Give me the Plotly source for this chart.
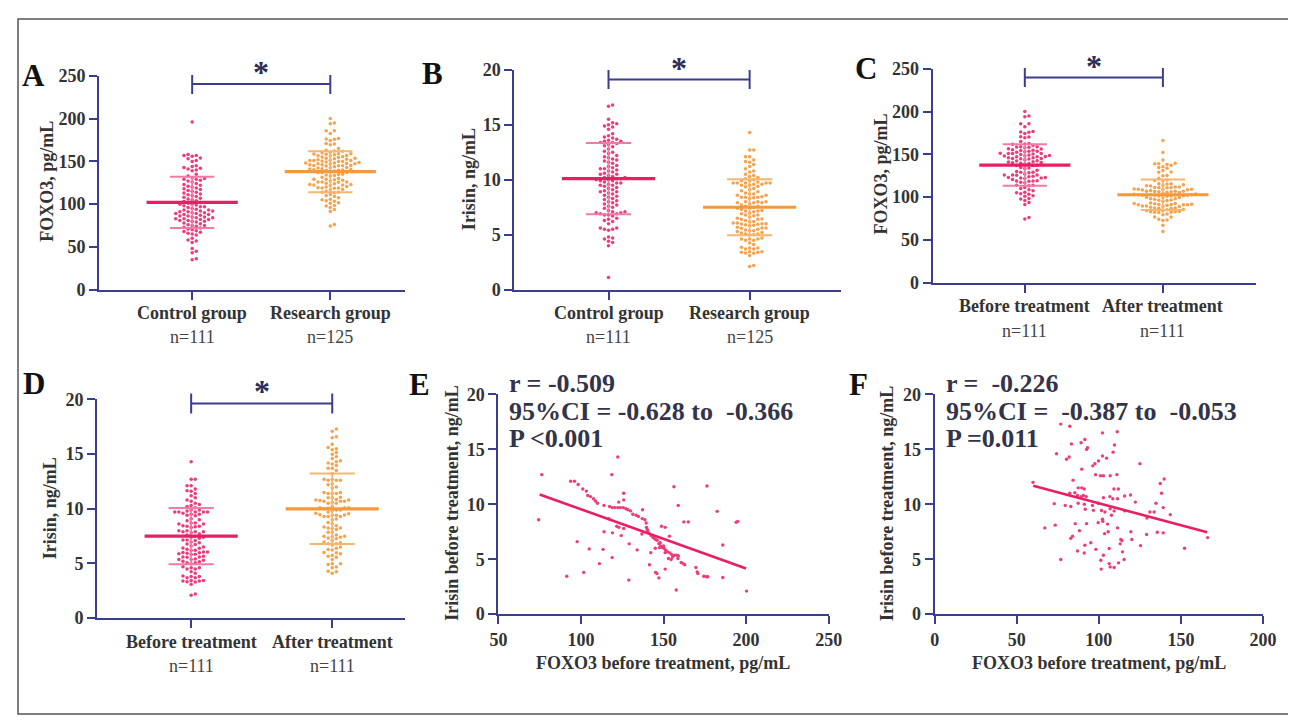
import numpy as np
import plotly.graph_objects as go

W, H = 1296, 721
FONT = "Liberation Serif"
NAVY = "#3b3d8f"
TXT = "#333333"
PINK_PT, PINK_MEAN, PINK_SD = "#ef3b7c", "#e91e63", "#f27aa6"
ORNG_PT, ORNG_MEAN, ORNG_SD = "#f6a24c", "#f59a3c", "#f8b570"

# ---------------- data ----------------
a_control = [196,
             158, 157, 157, 156, 154, 153,
             151, 150,
             145, 144, 143, 142, 141, 140, 139,
             135, 133,
             131, 130, 129, 129, 128, 127, 126,
             124, 123, 122, 121, 120, 119, 118, 117, 116,
             115, 114, 113, 112, 111, 110, 109, 108, 107,
             106, 105, 104, 103, 102, 101, 100, 100, 99, 98, 97, 97, 96,
             95, 94, 93, 93, 92, 92, 91, 91, 90, 90, 89, 89, 88, 88, 87,
             86, 86, 85, 85, 84, 84, 83, 83, 82, 82, 81, 81, 80, 80, 79,
             78, 77, 76, 75, 75, 74, 73, 72, 71,
             70, 69, 68, 67, 66, 65, 64,
             60, 58, 57, 55,
             48, 45, 43,
             36, 35]

b_control = [16.8, 16.7,
             15.5,
             15.2, 15.1, 15.0, 14.9, 14.8, 14.6,
             14.2, 14.0, 13.9, 13.8, 13.7, 13.6, 13.5, 13.5, 13.4, 13.4, 13.3, 13.2, 13.1,
             13.0, 12.8, 12.6, 12.5, 12.4, 12.2, 12.1, 12.0, 11.9, 11.8, 11.7, 11.6, 11.5,
             11.3, 11.2, 11.1, 11.0, 11.0, 10.9, 10.8, 10.7, 10.6, 10.5, 10.5, 10.4, 10.3,
             10.2, 10.2, 10.1, 10.1, 10.0, 10.0,
             9.9, 9.9, 9.8, 9.7, 9.7, 9.6, 9.5, 9.5, 9.4, 9.3, 9.2, 9.1, 9.0, 8.9, 8.9,
             8.8, 8.7, 8.6,
             8.5, 8.4, 8.3, 8.2, 8.1, 8.0, 7.9, 7.8, 7.7, 7.6, 7.5, 7.4,
             7.2, 7.1, 7.1, 7.0, 7.0, 6.9, 6.9, 6.8, 6.8, 6.7,
             6.5, 6.4, 6.3, 6.2, 6.0,
             5.6, 5.6, 5.5, 5.5, 5.4,
             4.8, 4.7, 4.6, 4.4, 4.3,
             4.0,
             1.1]

foxo3_before = [76.3, 122.3, 118.7, 74.4, 93.8, 96.1, 98.3, 101.1, 103.3, 104.1,
                105.8, 107.6, 108.8, 110.0, 125.9, 125.9, 122.9, 114.0, 117.3, 118.9,
                120.5, 122.3, 123.9, 125.6, 127.2, 128.4, 130.0, 137.3, 131.4, 133.4,
                134.8, 137.1, 138.7, 139.5, 139.7, 140.1, 116.9, 121.7, 123.0, 125.9,
                114.0, 119.1, 124.4, 136.9, 140.5, 148.8, 151.0, 153.6, 142.5, 143.7,
                145.2, 146.2, 147.2, 148.2, 149.2, 150.4, 151.4, 152.4, 153.8, 155.0,
                156.7, 158.3, 158.7, 160.7, 161.9, 162.9, 147.6, 145.0, 142.3, 151.0,
                153.0, 154.6, 169.6, 170.4, 170.8, 174.4, 176.0, 176.8, 185.9, 185.9,
                182.5, 194.0, 195.0, 176.3, 156.3, 158.9, 162.3, 165.0, 200.3, 157.7,
                147.2, 145.2, 146.0, 151.0, 141.5, 129.0, 91.4, 101.7, 111.2, 118.9,
                105.0, 113.4, 97.7, 129.2, 134.0, 141.0, 144.5, 150.0, 155.5, 159.0,
                148.0]
irisin_before = [12.7, 14.3, 12.7, 8.6, 12.1, 12.1, 11.8, 11.4, 11.2, 10.8,
                 10.7, 10.5, 10.3, 10.1, 11.0, 10.4, 10.2, 9.9, 9.8, 9.7,
                 9.7, 9.7, 9.7, 9.7, 9.6, 9.5, 9.4, 9.5, 9.1, 9.0,
                 8.9, 8.7, 8.6, 8.3, 7.9, 7.7, 8.7, 8.0, 7.9, 7.8,
                 7.5, 7.4, 7.15, 7.3, 7.6, 8.0, 7.9, 7.1, 7.15, 6.97,
                 6.79, 6.73, 6.42, 6.18, 6.06, 5.97, 5.82, 5.67, 5.58, 5.42,
                 5.36, 5.36, 5.06, 4.7, 4.6, 4.5, 6.06, 6.0, 5.6, 5.6,
                 5.06, 4.97, 4.24, 3.85, 3.7, 3.45, 3.4, 3.4, 3.33, 6.3,
                 9.36, 8.36, 8.45, 11.66, 11.6, 9.9, 8.4, 8.4, 2.1, 2.2,
                 3.3, 3.8, 3.7, 4.1, 4.5, 3.1, 3.45, 3.8, 4.6, 5.15,
                 5.94, 5.9, 6.6, 6.4, 5.85, 7.4, 6.9, 6.2, 5.2, 5.3,
                 6.5]

foxo3_after = [59.9, 76.8, 82.3, 102.2, 111.2, 83.3, 89.2, 91.5, 93.1, 92.5,
               74.2, 80.3, 81.9, 108.7, 109.5, 102.2, 104.7, 99.8, 97.6, 96.3,
               89.6, 125.0, 98.0, 101.0, 102.8, 106.9, 111.0, 84.3, 139.8, 137.4,
               138.2, 109.2, 111.9, 87.4, 89.6, 91.1, 87.0, 89.2, 90.6, 92.3,
               85.4, 82.3, 102.8, 106.7, 108.5, 111.4, 115.7, 119.3, 122.2, 134.8,
               139.2, 72.8, 79.5, 82.9, 87.4, 91.1, 96.1, 99.6, 91.7, 96.7,
               106.9, 109.3, 103.7, 101.6, 115.8, 131.1, 133.7, 129.3, 143.5, 102.2,
               102.4, 105.3, 107.7, 85.6, 92.5, 99.6, 67.1, 73.4, 82.9, 84.0,
               111.4, 103.5, 105.7, 113.4, 114.0, 113.0, 119.5, 120.1, 129.1, 135.6,
               139.2, 125.4, 152.2, 166.3, 87.0, 91.1, 95.1, 91.5, 98.2, 106.3,
               102.8, 101.2, 106.3, 109.3, 112.0, 114.4, 115.4, 101.4, 106.9, 76.8,
               88.2]
irisin_after = [12.0, 17.3, 17.1, 16.5, 16.6, 15.5, 15.6, 15.9, 15.15, 15.0,
                14.6, 14.1, 14.3, 14.75, 15.4, 14.4, 14.2, 13.95, 13.7, 13.5,
                13.2, 13.7, 12.7, 12.6, 12.6, 12.6, 12.7, 12.2, 12.3, 11.9,
                11.0, 11.4, 11.4, 11.5, 11.5, 11.4, 10.8, 10.7, 10.8, 10.7,
                11.05, 11.0, 10.6, 10.7, 10.5, 10.5, 10.75, 10.85, 10.2, 10.1,
                9.7, 10.06, 9.9, 9.8, 10.1, 10.0, 9.9, 10.1, 9.55, 9.45,
                9.6, 9.4, 9.3, 9.43, 9.4, 9.3, 9.3, 8.75, 9.06, 8.64,
                8.45, 8.2, 9.0, 8.24, 8.24, 8.33, 7.85, 8.1, 6.9, 7.1,
                7.85, 7.33, 7.5, 6.8, 6.7, 6.4, 7.5, 6.8, 7.25, 7.45,
                7.4, 6.24, 6.0, 6.97, 5.75, 5.57, 6.5, 6.27, 5.9, 5.97,
                5.36, 4.9, 4.6, 4.24, 4.67, 5.67, 4.97, 4.1, 4.3, 4.97,
                7.6]

a_research = foxo3_before + [160, 157, 152, 150, 147, 145, 143, 140, 138, 135, 133, 128, 120, 115]
b_research = irisin_before + [10.0, 9.6, 9.2, 8.8, 8.4, 8.0, 7.6, 7.2, 6.8, 6.4, 6.0, 5.5, 5.0, 4.6]

a_mean, a_sd = [102, 138], [30, 24]
b_mean, b_sd = [10.1, 7.5], [3.25, 2.55]
c_mean, c_sd = [137.5, 102.8], [24.3, 17.9]
d_mean, d_sd = [7.5, 10.0], [2.57, 3.22]

e_fit_x, e_fit_y = [75, 200], [10.9, 4.15]
f_fit_x, f_fit_y = [60, 166], [11.7, 7.45]

e_stats = ["r = -0.509", "95%CI = -0.628 to  -0.366", "P <0.001"]
f_stats = ["r =  -0.226", "95%CI =  -0.387 to  -0.053", "P =0.011"]

group_labels_ab = ["Control group", "Research group"]
group_labels_cd = ["Before treatment", "After treatment"]
n_ab = [111, 125]
n_cd = [111, 111]

# ---------------- placement helpers ----------------
# the page shows the figure's paper in a 1272x702 box whose corner is at (17, 17)
OX, OY, SW, SH = 17.0, 17.0, 1272.0, 702.0


def px(x):
    return (x - OX) / SW


def py(y):
    return 1 - (y - OY) / SH


def swarm(values, px_per_unit, px_per_cat, dx=4.1, dy=3.7):
    vals = np.asarray(values, float)
    order = np.argsort(vals, kind="stable")
    offs = np.zeros(len(vals))
    placed = {}
    cands = [0]
    for j in range(1, 40):
        cands += [j, -j]
    for i in order:
        yv = vals[i] * px_per_unit
        for c in cands:
            if all(abs(yv - yy) >= dy for yy in placed.get(c, [])):
                placed.setdefault(c, []).append(yv)
                offs[i] = c * dx / px_per_cat
                break
    return offs


fig = go.Figure()
annotations = []
shapes = []

axis_common = dict(showline=True, linecolor=NAVY, linewidth=2, ticks="outside",
                   ticklen=8, tickwidth=2, tickcolor=NAVY, showgrid=False,
                   zeroline=False, fixedrange=True)


def ann(x, y, text, size, color=TXT, xref="paper", xanchor="center", angle=0, weight="bold"):
    annotations.append(dict(xref=xref, yref="paper", x=x if xref != "paper" else px(x),
                            y=py(y), text=text, showarrow=False, xanchor=xanchor,
                            yanchor="middle", textangle=angle,
                            font=dict(family=FONT, size=size, color=color, weight=weight)))


dot_panels = [
    dict(n=1, xd=(99, 405), yd=(75, 289), xr=(-0.674, 1.543), yr=(0, 250), dt=50,
         groups=(a_control, a_research), labels=group_labels_ab, ns=n_ab,
         means=a_mean, sds=a_sd, letter="A", lp=(33, 75),
         title="FOXO3, pg/mL", tp=(47, 181), lab_y=(312, 336),
         br=(83, 74, 93), star=66),
    dict(n=2, xd=(514, 840), yd=(69, 289), xr=(-0.667, 1.645), yr=(0, 20), dt=5,
         groups=(b_control, b_research), labels=group_labels_ab, ns=n_ab,
         means=b_mean, sds=b_sd, letter="B", lp=(432, 73),
         title="Irisin, ng/mL", tp=(468, 178), lab_y=(312, 336),
         br=(78.7, 69, 88), star=62),
    dict(n=3, xd=(932, 1255), yd=(68, 282), xr=(-0.667, 1.674), yr=(0, 250), dt=50,
         groups=(foxo3_before, foxo3_after), labels=group_labels_cd, ns=n_cd,
         means=c_mean, sds=c_sd, letter="C", lp=(865, 68),
         title="FOXO3, pg/mL", tp=(880, 173), lab_y=(305, 330),
         br=(76.7, 67, 86), star=60),
    dict(n=4, xd=(97, 405), yd=(399, 618), xr=(-0.667, 1.518), yr=(0, 20), dt=5,
         groups=(irisin_before, irisin_after), labels=group_labels_cd, ns=n_cd,
         means=d_mean, sds=d_sd, letter="D", lp=(34, 383),
         title="Irisin, ng/mL", tp=(50, 508), lab_y=(642, 666),
         br=(403, 393, 413), star=386),
]

for p in dot_panels:
    n = p["n"]
    xa = "x" if n == 1 else f"x{n}"
    ya = "y" if n == 1 else f"y{n}"
    plot_w = p["xd"][1] - p["xd"][0]
    plot_h = p["yd"][1] - p["yd"][0]
    ppc = plot_w / (p["xr"][1] - p["xr"][0])
    ppu = plot_h / (p["yr"][1] - p["yr"][0])
    cols = [(PINK_PT, PINK_MEAN, PINK_SD), (ORNG_PT, ORNG_MEAN, ORNG_SD)]
    for gi, vals in enumerate(p["groups"]):
        offs = swarm(vals, ppu, ppc)
        pt, mc, sc = cols[gi]
        fig.add_trace(go.Scatter(x=gi + offs, y=vals, mode="markers", xaxis=xa, yaxis=ya,
                                 marker=dict(size=3.5, color=pt, line=dict(width=0)),
                                 showlegend=False, hoverinfo="y"))
        m, s = p["means"][gi], p["sds"][gi]
        fig.add_trace(go.Scatter(x=[gi, gi], y=[m - s, m + s], mode="lines", xaxis=xa, yaxis=ya,
                                 line=dict(color=sc, width=1.6), showlegend=False, hoverinfo="skip"))
        for yy in (m - s, m + s):
            fig.add_trace(go.Scatter(x=[gi - 0.16, gi + 0.16], y=[yy, yy], mode="lines",
                                     xaxis=xa, yaxis=ya, line=dict(color=sc, width=2),
                                     showlegend=False, hoverinfo="skip"))
        fig.add_trace(go.Scatter(x=[gi - 0.33, gi + 0.33], y=[m, m], mode="lines",
                                 xaxis=xa, yaxis=ya, line=dict(color=mc, width=3.2),
                                 showlegend=False, hoverinfo="skip"))
        ann(gi, p["lab_y"][0], f"<b>{p['labels'][gi]}</b>", 18, xref=xa)
        ann(gi, p["lab_y"][1], f"n={p['ns'][gi]}", 18, color="#444444", xref=xa, weight="normal")
    fig.layout[("xaxis" if n == 1 else f"xaxis{n}")] = dict(
        axis_common, domain=[px(p["xd"][0]), px(p["xd"][1])], range=list(p["xr"]),
        anchor=ya, tickvals=[0, 1], showticklabels=False)
    fig.layout[("yaxis" if n == 1 else f"yaxis{n}")] = dict(
        axis_common, domain=[py(p["yd"][1]), py(p["yd"][0])], range=list(p["yr"]),
        anchor=xa, dtick=p["dt"], tick0=0,
        tickfont=dict(family=FONT, size=18, color=TXT, weight="bold"))
    hy, vy0, vy1 = p["br"]
    shapes.append(dict(type="line", xref=xa, yref="paper", x0=0, x1=1, y0=py(hy), y1=py(hy),
                       line=dict(color=NAVY, width=2)))
    for xx in (0, 1):
        shapes.append(dict(type="line", xref=xa, yref="paper", x0=xx, x1=xx,
                           y0=py(vy0), y1=py(vy1), line=dict(color=NAVY, width=2)))
    ann(0.5, p["star"] + 5, "<b>*</b>", 32, color="#2b2d55", xref=xa)
    ann(p["lp"][0], p["lp"][1], f"<b>{p['letter']}</b>", 31, color="#111111")
    ann(p["tp"][0], p["tp"][1], f"<b>{p['title']}</b>", 18, angle=-90)

scatter_panels = [
    dict(n=5, xd=(498, 828), yd=(394, 614), xr=(50, 250), x=foxo3_before, y=irisin_before,
         fx=e_fit_x, fy=e_fit_y, letter="E", lp=(419, 384), stats=e_stats, sx=507,
         ytp=(452, 503), xtp=(662, 663)),
    dict(n=6, xd=(934, 1262), yd=(394, 614), xr=(0, 200), x=foxo3_after, y=irisin_after,
         fx=f_fit_x, fy=f_fit_y, letter="F", lp=(858, 384), stats=f_stats, sx=943,
         ytp=(887, 503), xtp=(1098, 663)),
]

for p in scatter_panels:
    n = p["n"]
    xa, ya = f"x{n}", f"y{n}"
    fig.add_trace(go.Scatter(x=p["x"], y=p["y"], mode="markers", xaxis=xa, yaxis=ya,
                             marker=dict(size=3.4, color=PINK_PT, line=dict(width=0)),
                             showlegend=False))
    fig.add_trace(go.Scatter(x=p["fx"], y=p["fy"], mode="lines", xaxis=xa, yaxis=ya,
                             line=dict(color=PINK_MEAN, width=2.6), showlegend=False,
                             hoverinfo="skip"))
    fig.layout[f"xaxis{n}"] = dict(
        axis_common, domain=[px(p["xd"][0]), px(p["xd"][1])], range=list(p["xr"]),
        anchor=ya, dtick=50, tick0=0,
        tickfont=dict(family=FONT, size=18, color=TXT, weight="bold"))
    fig.layout[f"yaxis{n}"] = dict(
        axis_common, domain=[py(p["yd"][1]), py(p["yd"][0])], range=[0, 20],
        anchor=xa, dtick=5, tick0=0,
        tickfont=dict(family=FONT, size=18, color=TXT, weight="bold"))
    ann(p["lp"][0], p["lp"][1], f"<b>{p['letter']}</b>", 31, color="#111111")
    for line, yy in zip(p["stats"], (383, 411, 438)):
        ann(p["sx"], yy, f"<b>{line.replace('  ', chr(160) * 2)}</b>", 26,
            color="#33334a", xanchor="left")
    ann(p["ytp"][0], p["ytp"][1], "<b>Irisin before treatment, ng/mL</b>", 18, angle=-90)
    ann(p["xtp"][0], p["xtp"][1], "<b>FOXO3 before treatment, pg/mL</b>", 18)

# outer frame (clamped to the paper)
shapes.append(dict(type="rect", xref="paper", yref="paper",
                   x0=max(px(7), 0.0008), x1=min(px(1289), 0.9992),
                   y0=max(py(714), 0.0015), y1=min(py(8), 0.9985),
                   line=dict(color="#555555", width=1.5)))

fig.update_layout(width=W, height=H, margin=dict(l=0, r=0, t=0, b=0),
                  paper_bgcolor="white", plot_bgcolor="white", showlegend=False,
                  annotations=annotations, shapes=shapes,
                  font=dict(family=FONT, color=TXT))

fig.write_html("out.html")
